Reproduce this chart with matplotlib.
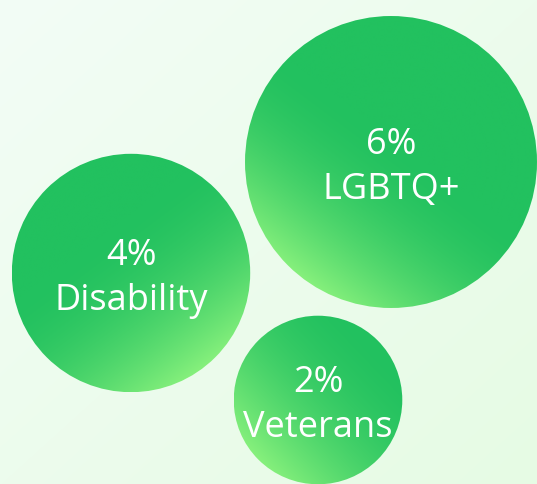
import numpy as np
import matplotlib.pyplot as plt
from matplotlib.patches import Circle
from matplotlib.colors import to_rgb

# data
labels = ['LGBTQ+', 'Disability', 'Veterans']
values = [6, 4, 2]

# layout (pixel space, y down)
centers = [(391, 163), (131, 274), (318, 401)]
light_dirs = [(-0.6, 0.8), (0.6, 0.8), (-0.72, 0.69)]
SCALE = 59.6      # radius = SCALE * sqrt(value)
GRAD_LEN = 165.0  # length of the light fade from the bright edge, px

DARK = np.array(to_rgb('#22c15f'))
LIGHT = np.array(to_rgb('#86f07c'))
BG_TL = np.array(to_rgb('#f3fdf6'))
BG_BR = np.array(to_rgb('#e6fbe4'))

W, H = 537, 485
fig = plt.figure(figsize=(W / 100, H / 100), dpi=100)
ax = fig.add_axes([0, 0, 1, 1])
ax.set_xlim(0, W)
ax.set_ylim(H, 0)
ax.axis('off')

# background gradient
yy, xx = np.mgrid[0:H, 0:W]
t = (xx / W + yy / H) / 2
bg = BG_TL + (BG_BR - BG_TL) * t[..., None]
ax.imshow(bg, extent=(0, W, H, 0), zorder=0)

for (cx, cy), val, lab, (dx, dy) in zip(centers, values, labels, light_dirs):
    r = SCALE * np.sqrt(val)
    n = int(2 * r) + 2
    gy, gx = np.mgrid[-r:r:complex(0, n), -r:r:complex(0, n)]
    proj = gx * dx + gy * dy
    f = np.clip(1 - (r - proj) / GRAD_LEN, 0, 1) ** 1.8
    img = DARK + (LIGHT - DARK) * f[..., None]
    im = ax.imshow(img, extent=(cx - r, cx + r, cy + r, cy - r), zorder=2)
    circ = Circle((cx, cy), r, transform=ax.transData, facecolor='none', edgecolor='none')
    ax.add_patch(circ)
    im.set_clip_path(circ)
    ax.text(cx, cy - 9, f'{val}%', color='white', ha='center', va='baseline',
            fontsize=26, family='Open Sans', zorder=3)
    ax.text(cx, cy + 36, lab, color='white', ha='center', va='baseline',
            fontsize=26, family='Open Sans', zorder=3)

ax.set_xlim(0, W)
ax.set_ylim(H, 0)
fig.savefig('out.png', dpi=100)
